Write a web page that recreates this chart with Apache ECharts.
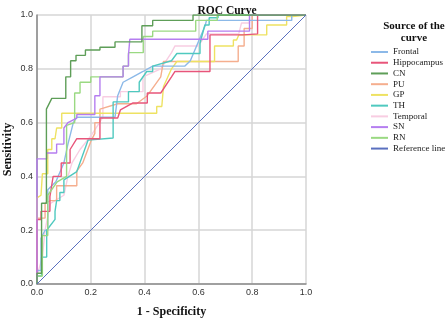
<!DOCTYPE html>
<html>
<head>
<meta charset="utf-8">
<script src="https://cdn.jsdelivr.net/npm/echarts@6/dist/echarts.min.js"></script>
<style>
  html, body { margin: 0; padding: 0; background: #fff; }
  #roc { width: 447px; height: 320px; }
</style>
</head>
<body>
<div id="roc"></div>
<script>
const curveNames = ["Frontal", "Hippocampus", "CN", "PU", "GP", "TH", "Temporal", "SN", "RN", "Reference line"];
const curveColors = ["#8cb9e8", "#e8557a", "#5e9e58", "#f5ae8e", "#eee262", "#4fc9bf", "#f8cde2", "#b57ef0", "#9ad982", "#5a70bf"];
const tickLabels = ["0.0", "0.2", "0.4", "0.6", "0.8", "1.0"];

// [1 - specificity, sensitivity]
const frontal = [[0,0],[0,0.05],[0.015,0.05],[0.015,0.17],[0.03,0.2],[0.04,0.2],[0.04,0.35],[0.07,0.38],[0.1,0.45],[0.115,0.52],[0.135,0.6],[0.148,0.62],[0.29,0.62],[0.3,0.7],[0.32,0.75],[0.357,0.77],[0.394,0.79],[0.43,0.81],[0.55,0.81],[0.57,0.83],[0.625,0.96],[0.63,0.98],[0.947,0.98],[0.947,1],[1,1]];
const hippocampus = [[0,0],[0,0.24],[0.015,0.24],[0.015,0.27],[0.048,0.27],[0.048,0.325],[0.06,0.4],[0.09,0.4],[0.09,0.45],[0.123,0.45],[0.123,0.5],[0.148,0.54],[0.234,0.54],[0.234,0.617],[0.3,0.617],[0.31,0.647],[0.357,0.673],[0.41,0.673],[0.41,0.71],[0.46,0.71],[0.5,0.77],[0.513,0.79],[0.643,0.79],[0.643,0.926],[0.767,0.926],[0.767,0.93],[0.82,0.93],[0.82,1],[1,1]];
const cn = [[0,0],[0,0.04],[0.017,0.04],[0.017,0.3],[0.035,0.3],[0.035,0.65],[0.055,0.69],[0.107,0.69],[0.107,0.77],[0.125,0.77],[0.125,0.83],[0.145,0.83],[0.145,0.85],[0.18,0.85],[0.18,0.87],[0.234,0.87],[0.234,0.88],[0.29,0.88],[0.29,0.9],[0.39,0.9],[0.39,0.96],[0.43,0.96],[0.43,0.98],[0.58,0.98],[0.58,1],[1,1]];
const pu = [[0,0],[0,0.245],[0.03,0.245],[0.03,0.3],[0.05,0.31],[0.073,0.31],[0.073,0.365],[0.148,0.365],[0.148,0.42],[0.17,0.45],[0.2,0.53],[0.215,0.56],[0.215,0.6],[0.234,0.6],[0.234,0.65],[0.3,0.67],[0.37,0.67],[0.41,0.7],[0.46,0.77],[0.47,0.827],[0.748,0.827],[0.748,0.885],[0.77,0.885],[0.77,0.95],[0.8,0.95],[0.8,1],[1,1]];
const gp = [[0,0],[0,0.32],[0.015,0.33],[0.02,0.41],[0.04,0.41],[0.04,0.5],[0.055,0.5],[0.055,0.54],[0.067,0.54],[0.073,0.58],[0.092,0.58],[0.092,0.635],[0.445,0.635],[0.445,0.66],[0.464,0.66],[0.47,0.733],[0.5,0.8],[0.52,0.827],[0.66,0.827],[0.66,0.885],[0.73,0.885],[0.73,0.907],[0.742,0.907],[0.75,0.926],[0.854,0.926],[0.854,0.963],[0.928,0.963],[0.928,0.994],[0.95,0.994],[0.95,1],[1,1]];
const th = [[0,0],[0,0.03],[0.017,0.03],[0.017,0.1],[0.036,0.1],[0.036,0.2],[0.067,0.24],[0.067,0.27],[0.073,0.27],[0.073,0.31],[0.085,0.31],[0.085,0.34],[0.1,0.34],[0.1,0.387],[0.148,0.418],[0.19,0.535],[0.283,0.543],[0.283,0.677],[0.34,0.677],[0.34,0.715],[0.38,0.715],[0.38,0.75],[0.408,0.79],[0.43,0.79],[0.43,0.81],[0.5,0.83],[0.52,0.857],[0.606,0.857],[0.606,0.895],[0.624,0.963],[0.64,0.963],[0.64,0.99],[0.673,0.99],[0.673,1],[1,1]];
const temporal = [[0,0],[0,0.03],[0.02,0.1],[0.03,0.2],[0.05,0.3],[0.1,0.33],[0.115,0.4],[0.13,0.45],[0.16,0.5],[0.2,0.55],[0.245,0.62],[0.245,0.696],[0.31,0.696],[0.31,0.715],[0.394,0.715],[0.394,0.77],[0.46,0.8],[0.5,0.86],[0.513,0.885],[0.6,0.885],[0.63,0.93],[0.75,0.93],[0.76,0.97],[0.79,0.97],[0.79,1],[1,1]];
const sn = [[0,0],[0,0.465],[0.036,0.465],[0.036,0.487],[0.073,0.487],[0.073,0.52],[0.1,0.52],[0.1,0.58],[0.115,0.6],[0.148,0.617],[0.148,0.63],[0.215,0.63],[0.215,0.7],[0.234,0.7],[0.234,0.77],[0.32,0.77],[0.32,0.81],[0.34,0.81],[0.34,0.85],[0.345,0.85],[0.345,0.91],[0.635,0.91],[0.635,0.94],[0.79,0.94],[0.79,1],[1,1]];
const rn = [[0,0],[0,0.03],[0.02,0.03],[0.02,0.18],[0.04,0.18],[0.04,0.33],[0.075,0.38],[0.11,0.4],[0.11,0.59],[0.14,0.6],[0.14,0.71],[0.16,0.71],[0.16,0.75],[0.2,0.75],[0.2,0.77],[0.32,0.77],[0.32,0.81],[0.34,0.81],[0.34,0.86],[0.395,0.86],[0.395,0.92],[0.43,0.92],[0.43,0.94],[0.59,0.94],[0.59,0.98],[0.67,0.98],[0.67,1],[1,1]];
const reference = [[0,0],[1,1]];

const curveData = [frontal, hippocampus, cn, pu, gp, th, temporal, sn, rn, reference];
const drawOrder = [6, 3, 4, 0, 5, 1, 8, 7, 2, 9];

const chart = echarts.init(document.getElementById("roc"), null, { renderer: "canvas" });

const serif = "Liberation Serif";
const sans = "Liberation Sans";

chart.setOption({
  animation: false,
  title: [
    {
      text: "ROC Curve",
      left: 222, top: 0, textAlign: "center",
      textStyle: { fontFamily: serif, fontSize: 11.5, fontWeight: "bold", color: "#111" }
    },
    {
      text: "Source of the\ncurve",
      left: 409, top: 15, textAlign: "center",
      textStyle: { fontFamily: serif, fontSize: 11, fontWeight: "bold", color: "#111", lineHeight: 12 }
    }
  ],
  legend: {
    orient: "vertical",
    left: 366, top: 42,
    itemWidth: 17, itemHeight: 2, itemGap: 0.73,
    icon: "rect",
    textStyle: { fontFamily: serif, fontSize: 9, color: "#222", lineHeight: 10 },
    data: curveNames
  },
  grid: { left: 37, top: 15, width: 269, height: 269, containLabel: false, outerBoundsMode: "none" },
  xAxis: {
    type: "value", min: 0, max: 1, interval: 0.2,
    name: "1 - Specificity", nameLocation: "middle", nameGap: 21.5, nameMoveOverlap: false,
    nameTextStyle: { fontFamily: serif, fontSize: 12, fontWeight: "bold", color: "#111" },
    axisLine: { lineStyle: { color: "#8a8a8a", width: 1.5 } },
    axisTick: { show: false },
    axisLabel: { fontFamily: sans, fontSize: 9, color: "#333", margin: 4, formatter: v => tickLabels[Math.round(v * 5)] },
    splitLine: { lineStyle: { color: "#d6d6d6", width: 1.5 } }
  },
  yAxis: {
    type: "value", min: 0, max: 1, interval: 0.2,
    name: "Sensitivity", nameLocation: "middle", nameGap: 23, nameRotate: 90, nameMoveOverlap: false,
    nameTextStyle: { fontFamily: serif, fontSize: 12, fontWeight: "bold", color: "#111" },
    axisLine: { show: true, lineStyle: { color: "#8a8a8a", width: 1.5 } },
    axisTick: { show: false },
    axisLabel: { fontFamily: sans, fontSize: 9, color: "#333", margin: 4, formatter: v => tickLabels[Math.round(v * 5)] },
    splitLine: { lineStyle: { color: "#d6d6d6", width: 1.5 } }
  },
  series: drawOrder.map(i => ({
    name: curveNames[i],
    type: "line",
    data: curveData[i],
    showSymbol: false,
    symbol: "none",
    color: curveColors[i],
    lineStyle: { color: curveColors[i], width: i === 9 ? 1 : 1.4 },
    z: i === 9 ? 3 : 2
  }))
});
</script>
</body>
</html>
